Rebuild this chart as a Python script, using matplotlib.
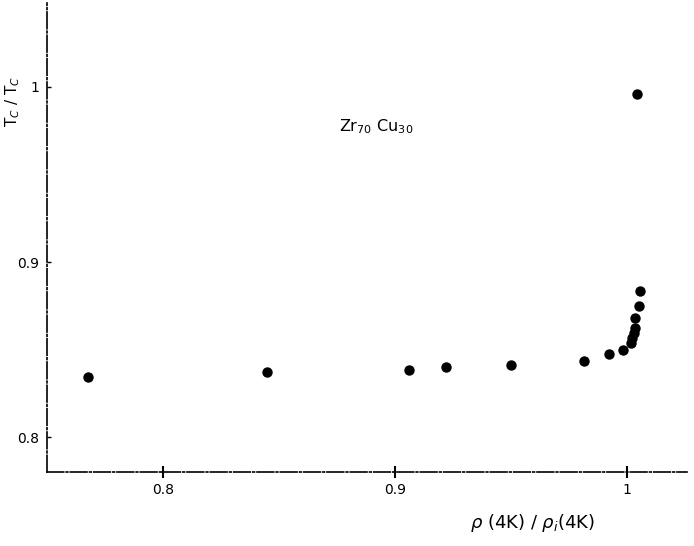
import matplotlib
matplotlib.use('Agg')
from matplotlib import pyplot as plt

# resistivity ratio rho(4K)/rho_i(4K) and reduced Tc
ratio = [0.7675, 0.845, 0.906, 0.9222, 0.950, 0.9817, 0.9925, 0.9983,
         1.0019, 1.0024, 1.0029, 1.0034, 1.0034, 1.0051, 1.0056, 1.0043]
tc_ratio = [0.8343, 0.8372, 0.8386, 0.8402, 0.8415, 0.8435, 0.8477, 0.8500,
            0.8540, 0.8568, 0.8597, 0.8622, 0.8680, 0.8747, 0.8834, 0.9960]

xticks = [0.8, 0.9, 1.0]
xtick_labels = ['0.8', '0.9', '1']
yticks = [0.8, 0.9, 1.0]
ytick_labels = ['0.8', '0.9', '1']

fig = plt.figure(figsize=(6.94, 5.46), dpi=100)
ax = fig.add_axes([0.068, 0.135, 0.922, 0.86])

ax.scatter(ratio, tc_ratio, s=42, color='black', zorder=3)

ax.set_xlim(0.75, 1.026)
ax.set_ylim(0.780, 1.048)

for side in ['top', 'right']:
    ax.spines[side].set_visible(False)
for side in ['left', 'bottom']:
    ax.spines[side].set_linewidth(1.2)
    ax.spines[side].set_linestyle((0, (10, 1.5, 1, 1.5)))

ax.set_xticks(xticks)
ax.set_xticklabels(xtick_labels)
ax.set_yticks(yticks)
ax.set_yticklabels(ytick_labels)
ax.tick_params(axis='x', direction='inout', length=8, width=1.5, labelsize=10, pad=4)
ax.tick_params(axis='y', direction='in', length=3, width=1.0, labelsize=10, pad=6)

ax.text(0.8758, 0.9773, r'Zr$_{70}$ Cu$_{30}$', fontsize=11.5, ha='left', va='center')

fig.text(0.767, 0.042, r'$\rho$ (4K) / $\rho_{i}$(4K)', fontsize=13, ha='center', va='center')
fig.text(0.018, 0.815, r'T$_C$ / T$_C$', fontsize=11, rotation=90, ha='center', va='center')

fig.savefig('out.png', dpi=100)
